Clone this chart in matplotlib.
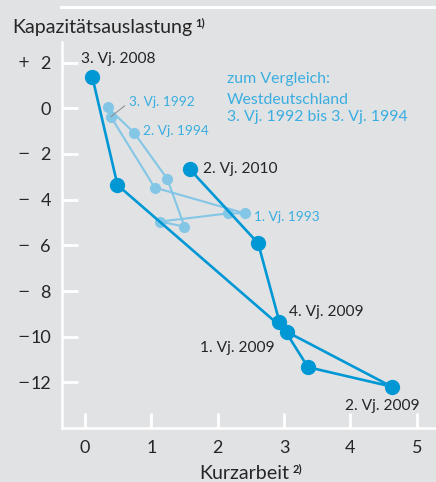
import matplotlib
matplotlib.use('Agg')
import matplotlib.pyplot as plt
from matplotlib.lines import Line2D

plt.rcParams['font.family'] = ['Lato', 'DejaVu Sans']

# ---------------- data ----------------
east_quarters = ['3. Vj. 2008', '4. Vj. 2008', '1. Vj. 2009', '2. Vj. 2009',
                 '3. Vj. 2009', '4. Vj. 2009', '1. Vj. 2010', '2. Vj. 2010']
east_kurzarbeit = [0.11, 0.49, 3.04, 4.62, 3.36, 2.93, 2.61, 1.58]
east_kapazitaet = [1.38, -3.36, -9.78, -12.18, -11.33, -9.34, -5.91, -2.67]

west_quarters = ['3. Vj. 1992', '4. Vj. 1992', '1. Vj. 1993', '2. Vj. 1993',
                 '3. Vj. 1993', '4. Vj. 1993', '1. Vj. 1994', '2. Vj. 1994',
                 '3. Vj. 1994']
west_kurzarbeit = [0.39, 1.05, 2.41, 2.16, 1.13, 1.50, 1.24, 0.74, 0.34]
west_kapazitaet = [-0.37, -3.47, -4.60, -4.60, -4.96, -5.18, -3.09, -1.07, 0.04]

x_ticks = [0, 1, 2, 3, 4, 5]
y_ticks = [2, 0, -2, -4, -6, -8, -10, -12]
y_title = 'Kapazitätsauslastung'
x_title = 'Kurzarbeit'
note_lines = ['zum Vergleich:', 'Westdeutschland', '3. Vj. 1992 bis 3. Vj. 1994']

# ---------------- style ----------------
BG = '#e1e2e4'
DARK = '#0097d5'
LIGHT = '#83c6e6'
LIGHT_TXT = '#3aaee0'
TXT = '#262626'

W, H = 436, 482
fig = plt.figure(figsize=(W / 100, H / 100), dpi=100, facecolor=BG)
ax = fig.add_axes([62 / W, (H - 427.7) / H, (W - 62) / W, (427.7 - 42) / H])
ax.set_facecolor('none')
ax.set_xlim(-0.346, 5.29)
ax.set_ylim(-13.98, 2.9)

for s in ['top', 'right']:
    ax.spines[s].set_visible(False)
for s in ['left', 'bottom']:
    ax.spines[s].set_color('white')
    ax.spines[s].set_linewidth(1.8)

ax.set_xticks(x_ticks)
ax.set_xticklabels([str(v) for v in x_ticks])
ax.set_yticks(y_ticks)
ax.set_yticklabels([str(abs(v)) for v in y_ticks])
ax.tick_params(axis='both', direction='in', color='white', width=2.0,
               labelsize=13, labelcolor=TXT)
ax.tick_params(axis='y', length=11.5, pad=8)
ax.tick_params(axis='x', length=10.8, pad=9)

# signs of y tick labels
for v in y_ticks:
    sign = '+' if v > 0 else ('\u2212' if v < 0 else '')
    if sign:
        ax.text((17 - 62) / (W - 62), v, sign, transform=ax.get_yaxis_transform(),
                ha='left', va='center', fontsize=10.5, color=TXT,
                family=['DejaVu Sans'])

# west series (light)
ax.plot(west_kurzarbeit, west_kapazitaet, color=LIGHT, lw=1.5, marker='o',
        markersize=8.0, markeredgewidth=0, zorder=2, solid_joinstyle='round')
# east series (dark)
ax.plot(east_kurzarbeit, east_kapazitaet, color=DARK, lw=1.9, marker='o',
        markersize=11, markeredgewidth=0, zorder=3, solid_joinstyle='round')

# labels for east points: (index, dx px, dy px, ha)
east_label_pos = {0: (-11, 14, 'left'), 2: (-11.7, -20.3, 'right'),
                  3: (28.3, -23.3, 'right'), 5: (10, 5.7, 'left'),
                  7: (13, -3.7, 'left')}
for i, (dx, dy, ha) in east_label_pos.items():
    ax.annotate(east_quarters[i], (east_kurzarbeit[i], east_kapazitaet[i]),
                xytext=(dx, dy), textcoords='offset pixels', ha=ha, va='baseline',
                fontsize=11.2, color=TXT, zorder=5)

west_label_pos = {0: (18, 11, 'left'), 2: (9, -7.3, 'left'), 7: (9, -2.3, 'left')}
for i, (dx, dy, ha) in west_label_pos.items():
    ax.annotate(west_quarters[i], (west_kurzarbeit[i], west_kapazitaet[i]),
                xytext=(dx, dy), textcoords='offset pixels', ha=ha, va='baseline',
                fontsize=9.8, color=LIGHT_TXT, zorder=5)
# leader line for 3. Vj. 1992
ax.annotate('', (west_kurzarbeit[0], west_kapazitaet[0]), xytext=(14, 11),
            textcoords='offset pixels',
            arrowprops=dict(arrowstyle='-', color='#8a8a8a', lw=0.7,
                            shrinkA=0, shrinkB=0), zorder=4)

# note block
for txt, yb in zip(note_lines, [83, 104, 121]):
    fig.text(227 / W, (H - yb) / H, txt, ha='left', va='baseline',
             fontsize=11.4, color=LIGHT_TXT)

# titles
fig.text(12 / W, (H - 33) / H, y_title, ha='left', va='baseline', fontsize=14.1, color=TXT)
fig.text(195 / W, (H - 26) / H, '1)', ha='left', va='baseline', fontsize=8,
         fontweight='bold', color=TXT)
fig.text(199 / W, (H - 479) / H, x_title, ha='left', va='baseline', fontsize=14.1, color=TXT)
fig.text(293 / W, (H - 472) / H, '2)', ha='left', va='baseline', fontsize=8,
         fontweight='bold', color=TXT)

# top rule
fig.add_artist(Line2D([61 / W, 1.0], [(H - 7) / H] * 2, color='white', lw=2.2,
                      transform=fig.transFigure))

fig.savefig('out.png', dpi=100, facecolor=BG)
